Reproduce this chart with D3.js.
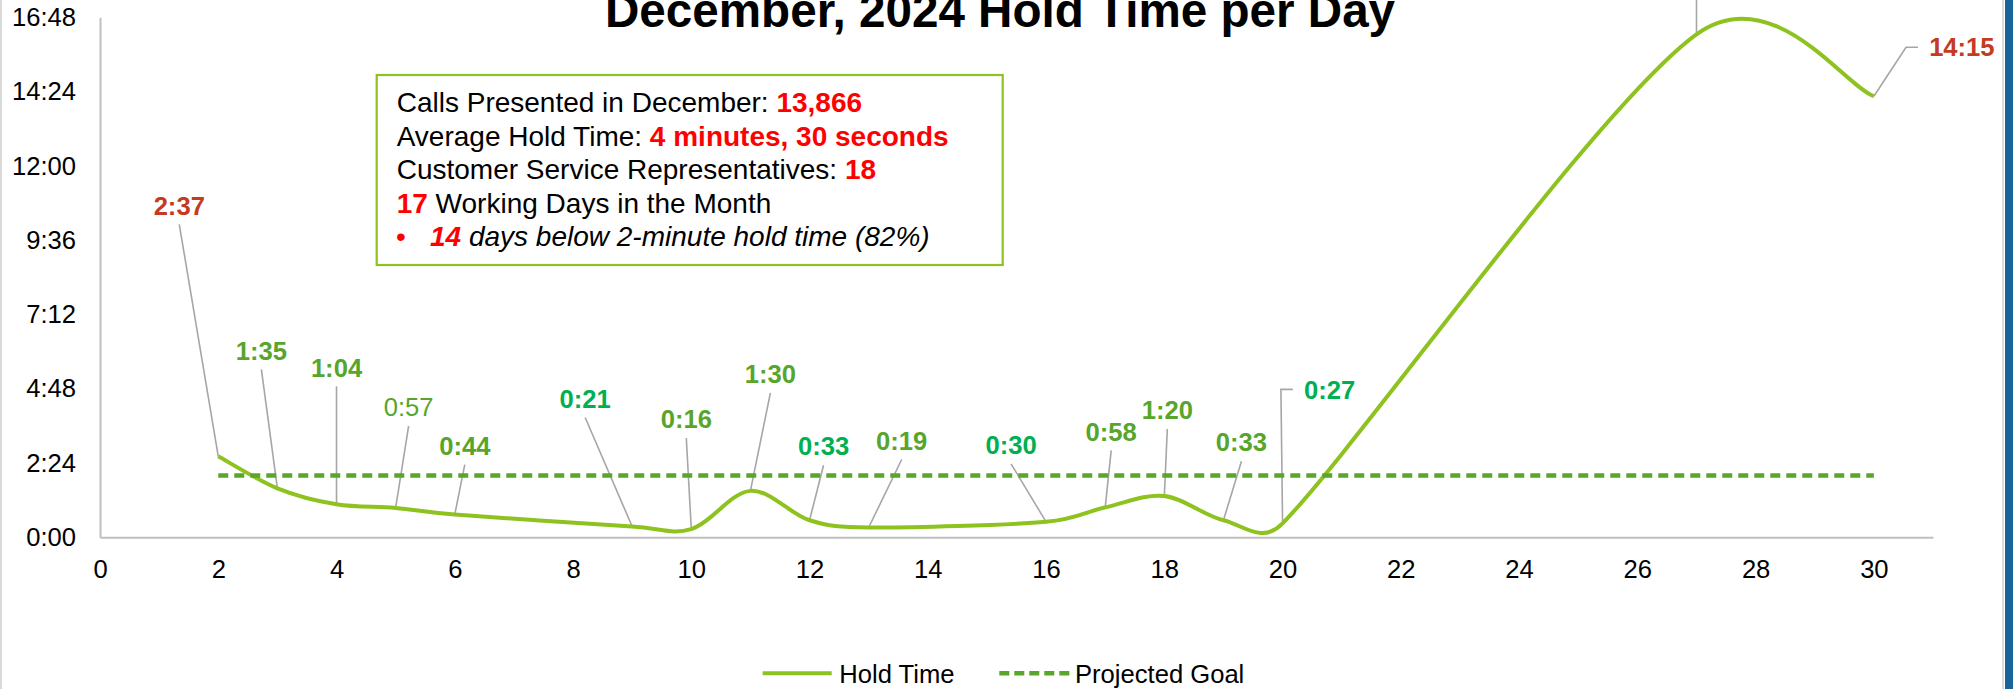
<!DOCTYPE html>
<html>
<head>
<meta charset="utf-8">
<script src="https://cdn.jsdelivr.net/npm/d3@7"></script>
<style>
body { margin: 0; background: #fff; overflow: hidden; }
svg text { font-family: "Liberation Sans", Arial, sans-serif; white-space: pre; }
</style>
</head>
<body>
<svg id="chart"></svg>
<script>
var width = 2013
var height = 689

// working days in December and the hold time of each, in seconds
var days = [2, 3, 4, 5, 6, 9, 10, 11, 12, 13, 16, 17, 18, 19, 20, 27, 30]
var holdSeconds = [157, 95, 64, 57, 44, 21, 16, 90, 33, 19, 30, 58, 80, 33, 27, 975, 855]
var goalDays = [2, 30]
var goalSeconds = 120
var xTicks = d3.range(0, 31, 2)
var yTicks = d3.range(0, 1009, 144)
var seriesNames = ['Hold Time', 'Projected Goal']

// how each data label looks
var labelColor = ['red', 'olive', 'olive', 'olive', 'olive', 'teal', 'olive', 'olive', 'teal', 'olive', 'teal', 'olive', 'olive', 'olive', 'teal', 'red', 'red']
var labelBold = [1, 1, 1, 0, 1, 1, 1, 1, 1, 1, 1, 1, 1, 1, 1, 1, 1]
// where each label sits relative to its point (px), and how the leader is drawn
var labelOffset = [[-39, -251], [-16, -138], [0, -137], [13, -101], [10, -69], [-47, -128], [-5, -110], [20, -117], [14, -74], [33, -87], [-35, -77], [6, -76], [3, -86], [18, -78], [47, -134], [0, -80], [88, -49]]
var labelLeader = ['up', 'up', 'up', 'up', 'up', 'up', 'up', 'up', 'up', 'up', 'up', 'up', 'up', 'up', 'elbow', 'up', 'elbow']

var summaryLines = [
	[{t: 'Calls Presented in December: '}, {t: '13,866', hot: true}],
	[{t: 'Average Hold Time: '}, {t: '4 minutes, 30 seconds', hot: true}],
	[{t: 'Customer Service Representatives: '}, {t: '18', hot: true}],
	[{t: '17', hot: true}, {t: ' Working Days in the Month'}],
	[{t: '14', hot: true, italic: true}, {t: ' days below 2-minute hold time (82%)', italic: true}]
]

var colors = {red: '#c43a22', olive: '#57a52b', teal: '#00b050'}
var lineColor = '#8dc21f'
var goalColor = '#5aa52b'
var axisColor = '#bfbfbf'
var fs = 25.6

function fmt(s) {
	var m = Math.floor(s / 60), r = Math.round(s % 60)
	return m + ':' + (r < 10 ? '0' : '') + r
}

// spreadsheet style smoothing: catmull-rom tangents, control arms capped at half the segment
function smoothPath(pts) {
	var p = d3.path()
	var n = pts.length
	function at(i) {return pts[Math.max(0, Math.min(n - 1, i))]}
	function dist(a, b) {return Math.hypot(b[0] - a[0], b[1] - a[1])}
	p.moveTo(pts[0][0], pts[0][1])
	for (var i = 0; i < n - 1; i++) {
		var p0 = at(i - 1), p1 = at(i), p2 = at(i + 1), p3 = at(i + 2)
		var seg = dist(p1, p2)
		var d02 = dist(p0, p2), d13 = dist(p1, p3)
		var f1 = d02 / 6 > seg / 2 ? seg / (2 * d02) : 1 / 6
		var f2 = d13 / 6 > seg / 2 ? seg / (2 * d13) : 1 / 6
		p.bezierCurveTo(
			p1[0] + (p2[0] - p0[0]) * f1, p1[1] + (p2[1] - p0[1]) * f1,
			p2[0] - (p3[0] - p1[0]) * f2, p2[1] - (p3[1] - p1[1]) * f2,
			p2[0], p2[1])
	}
	return p.toString()
}

var svg = d3.select('#chart').attr('width', width).attr('height', height)
svg.append('rect').attr('width', width).attr('height', height).attr('fill', '#fff')

var x = d3.scaleLinear().domain([0, 31]).range([100, 1933])
var y = d3.scaleLinear().domain([0, 1008]).range([537.3, 17.3])

// axes
var xAxis = svg.append('g').attr('transform', 'translate(0,' + y(0) + ')')
	.call(d3.axisBottom(x).tickValues(xTicks).tickSize(0).tickPadding(23).tickFormat(d3.format('d')))
var yAxis = svg.append('g').attr('transform', 'translate(' + x(0) + ',0)')
	.call(d3.axisLeft(y).tickValues(yTicks).tickSize(0).tickPadding(24).tickFormat(fmt))
;[xAxis, yAxis].forEach(function(g) {
	g.select('.domain').attr('stroke', axisColor).attr('stroke-width', 2)
	g.selectAll('text').attr('font-size', fs).attr('fill', '#000').attr('font-family', '"Liberation Sans", Arial, sans-serif')
})

var points = days.map(function(d, i) {return {day: d, sec: holdSeconds[i], i: i}})

// leaders under the line
var leaderGroup = svg.append('g')
var labelGroup = svg.append('g')
points.forEach(function(p) {
	var px = x(p.day), py = y(p.sec)
	var off = labelOffset[p.i]
	var cx = px + off[0], cy = py + off[1]
	var path
	if (labelLeader[p.i] == 'elbow') {
		var half = fmt(p.sec).length * 0.28 * fs
		var left = cx - half - 8
		path = [[px, py], [left - 12, cy], [left, cy]]
	} else {
		path = [[cx, cy + 19], [px, py]]
	}
	leaderGroup.append('path')
		.attr('d', d3.line()(path))
		.attr('fill', 'none')
		.attr('stroke', '#a6a6a6')
		.attr('stroke-width', 1.6)
	// the label of day 27 sits above the picture's top edge
	if (cy < 0) return
	labelGroup.append('text')
		.attr('x', cx).attr('y', cy).attr('dy', '0.36em')
		.attr('text-anchor', 'middle')
		.attr('font-size', fs)
		.attr('font-weight', labelBold[p.i] ? 'bold' : 'normal')
		.attr('fill', colors[labelColor[p.i]])
		.text(fmt(p.sec))
})

// hold time line
svg.append('path')
	.attr('d', smoothPath(points.map(function(p) {return [x(p.day), y(p.sec)]})))
	.attr('fill', 'none')
	.attr('stroke', lineColor)
	.attr('stroke-width', 4)
	.attr('stroke-linejoin', 'round')

// projected goal
svg.append('line')
	.attr('x1', x(goalDays[0])).attr('x2', x(goalDays[1]))
	.attr('y1', y(goalSeconds)).attr('y2', y(goalSeconds))
	.attr('stroke', goalColor)
	.attr('stroke-width', 4.5)
	.attr('stroke-dasharray', '10,6')

labelGroup.raise()

// summary box
var box = svg.append('g')
box.append('rect')
	.attr('x', 376.7).attr('y', 75).attr('width', 626).attr('height', 190)
	.attr('fill', '#fff').attr('stroke', lineColor).attr('stroke-width', 2.2)
summaryLines.forEach(function(segs, i) {
	var t = box.append('text')
		.attr('x', i == 4 ? 430 : 396.7)
		.attr('y', 112 + i * 33.6)
		.attr('font-size', 28)
	segs.forEach(function(s) {
		t.append('tspan').text(s.t)
			.attr('fill', s.hot ? '#ff0000' : '#000')
			.attr('font-weight', s.hot ? 'bold' : 'normal')
			.attr('font-style', s.italic ? 'italic' : 'normal')
	})
})
box.append('text').attr('x', 396).attr('y', 112 + 4 * 33.6).attr('font-size', 28).attr('fill', '#ff0000').text('\u2022')

// legend
var legend = svg.append('g').attr('transform', 'translate(0,673.3)')
legend.append('line').attr('x1', 762.7).attr('x2', 831.7)
	.attr('stroke', lineColor).attr('stroke-width', 4)
legend.append('text').attr('x', 839.3).attr('dy', '0.36em').attr('font-size', fs).text(seriesNames[0])
legend.append('line').attr('x1', 999.3).attr('x2', 1069.3)
	.attr('stroke', goalColor).attr('stroke-width', 4.5).attr('stroke-dasharray', '10,5')
legend.append('text').attr('x', 1075).attr('dy', '0.36em').attr('font-size', fs).text(seriesNames[1])

// title, cut by the top edge as in the source
svg.append('text')
	.attr('x', 605).attr('y', 26.7)
	.attr('font-size', 47.6).attr('font-weight', 'bold')
	.text('December, 2024 Hold Time per Day')

// frame edges
svg.append('line').attr('x1', 1).attr('x2', 1).attr('y1', 0).attr('y2', height).attr('stroke', '#d9d9d9').attr('stroke-width', 2)
svg.append('line').attr('x1', 2003).attr('x2', 2003).attr('y1', 0).attr('y2', height).attr('stroke', '#d0d0d0').attr('stroke-width', 1.5)
svg.append('rect').attr('x', 2005).attr('y', 0).attr('width', 8).attr('height', height).attr('fill', '#17649a')
</script>
</body>
</html>
